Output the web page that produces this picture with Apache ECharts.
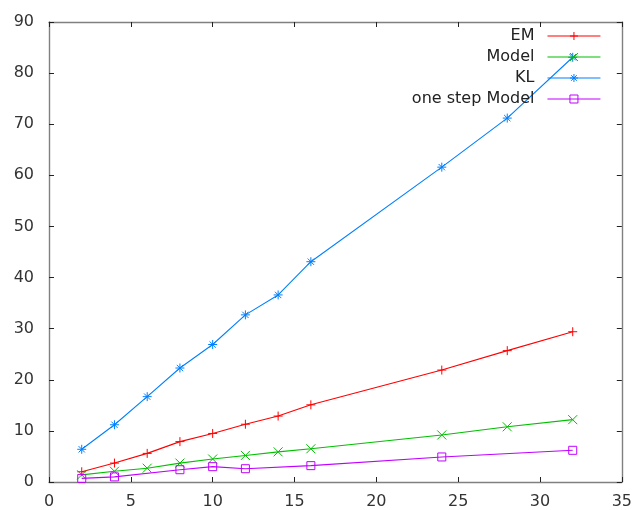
<!DOCTYPE html>
<html><head><meta charset="utf-8">
<script src="https://cdn.jsdelivr.net/npm/echarts@6/dist/echarts.min.js"></script>
<style>html,body{margin:0;padding:0;background:#fff}#c{width:635px;height:510px}</style>
</head><body><div id="c"></div>
<script>
var emX = [2,4,6,8,10,12,14,16,24,28,32];
var emY = [2.0,3.7,5.6,7.9,9.5,11.3,12.9,15.1,21.9,25.7,29.4];
var modelX = [2,4,6,8,10,12,14,16,24,28,32];
var modelY = [1.4,2.1,2.7,3.7,4.5,5.2,5.9,6.5,9.2,10.8,12.2];
var klX = [2,4,6,8,10,12,14,16,24,28,32];
var klY = [6.4,11.2,16.7,22.3,26.9,32.7,36.6,43.1,61.6,71.2,83.1];
var oneX = [2,4,8,10,12,16,24,32];
var oneY = [0.7,1.0,2.4,3.0,2.6,3.2,4.9,6.2];
var xTicks = [0,5,10,15,20,25,30,35];
var yTicks = [0,10,20,30,40,50,60,70,80,90];
var names = ['EM','Model','KL','one step Model'];

function pairs(xs, ys){ return xs.map(function(x,i){return [x, ys[i]];}); }
var colors = ['#ff0000','#00c000','#0080ff','#c000ff'];
var symbols = [
  'path://M5,0L5,10M0,5L10,5',
  'path://M0,0L10,10M10,0L0,10',
  'path://M5,0L5,10M0,5L10,5M1.5,1.5L8.5,8.5M8.5,1.5L1.5,8.5',
  'path://M0,0L10,0L10,10L0,10Z'
];
var datasets = [pairs(emX,emY), pairs(modelX,modelY), pairs(klX,klY), pairs(oneX,oneY)];
var series = names.map(function(n,i){
  return {
    name:n, type:'line', data:datasets[i], xAxisIndex:0, yAxisIndex:0,
    symbol:symbols[i], symbolSize:i===3?8:9, showAllSymbol:true,
    lineStyle:{color:colors[i], width:1.1},
    itemStyle:{color:'rgba(0,0,0,0)', borderColor:colors[i], borderWidth:1},
    emphasis:{disabled:true}, animation:false
  };
});
var legends = names.map(function(n,i){
  return {
    data:[n], right:34, top:28+i*21, align:'right', orient:'vertical',
    itemWidth:53, itemHeight:10, itemGap:0, padding:0,
    itemStyle:{color:'rgba(0,0,0,0)', borderColor:colors[i], borderWidth:1},
    lineStyle:{color:colors[i], width:1.1},
    textStyle:{fontFamily:'DejaVu Sans', fontSize:16, color:'#222', padding:[0,8,0,0]},
    selectedMode:false
  };
});
var axLine = {show:true, onZero:false, lineStyle:{color:'#808080', width:1.4}};
var axTick = {show:true, inside:true, length:5, lineStyle:{color:'#222', width:1}};
var lblStyle = {fontFamily:'DejaVu Sans', fontSize:16, color:'#333'};
var option = {
  backgroundColor:'#fff',
  animation:false,
  grid:{left:49, right:11, top:22, bottom:27, containLabel:false},
  legend:legends,
  xAxis:[
    {type:'value', min:0, max:35, interval:5, position:'bottom', axisLine:axLine, axisTick:axTick,
     splitLine:{show:false}, axisLabel:Object.assign({margin:12, formatter:function(v){return xTicks.indexOf(v)>=0?String(v):'';}}, lblStyle)},
    {type:'value', min:0, max:35, interval:5, position:'top', axisLine:axLine, axisTick:axTick,
     splitLine:{show:false}, axisLabel:{show:false}}
  ],
  yAxis:[
    {type:'value', min:0, max:90, interval:10, position:'left', axisLine:axLine, axisTick:axTick,
     splitLine:{show:false}, axisLabel:Object.assign({margin:15, formatter:function(v){return yTicks.indexOf(v)>=0?String(v):'';}}, lblStyle)},
    {type:'value', min:0, max:90, interval:10, position:'right', axisLine:axLine, axisTick:axTick,
     splitLine:{show:false}, axisLabel:{show:false}}
  ],
  series:series
};
echarts.init(document.getElementById('c'), null, {renderer:'canvas'}).setOption(option);
</script></body></html>
